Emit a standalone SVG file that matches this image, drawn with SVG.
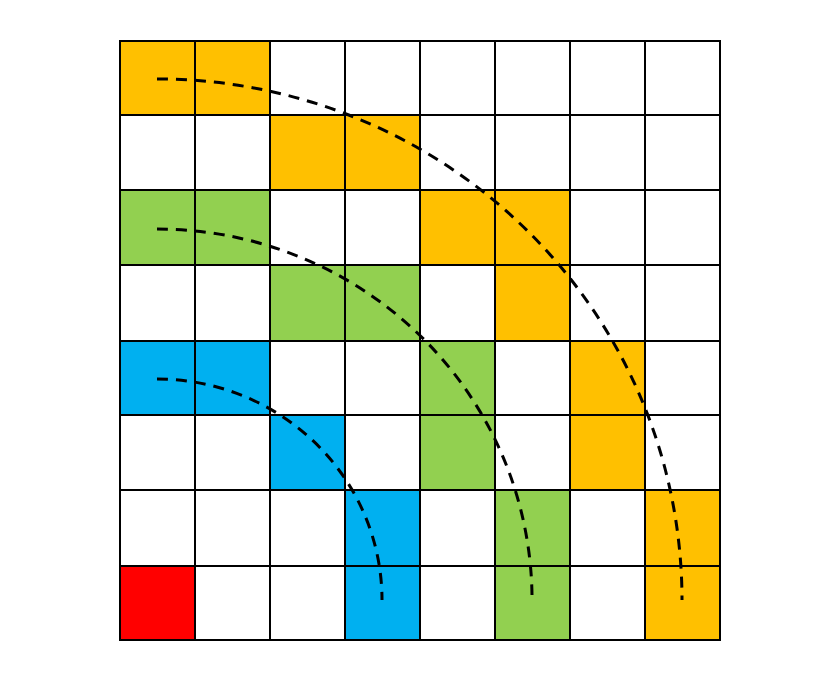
<svg xmlns="http://www.w3.org/2000/svg" width="840" height="682" viewBox="0 0 840 682">
<style>
.o{fill:#FFC000}.g{fill:#92D050}.b{fill:#00B0F0}.r{fill:#FF0000}
.grid line{stroke:#000;stroke-width:2}
.arc{fill:none;stroke:#000;stroke-width:3;stroke-dasharray:11 8}
</style>
<rect width="840" height="682" fill="#fff"/>
<g id="cells">
<rect class="o" x="120" y="40" width="150" height="75"/>
<rect class="o" x="270" y="115" width="150" height="75"/>
<rect class="o" x="420" y="190" width="150" height="75"/>
<rect class="o" x="495" y="265" width="75" height="75"/>
<rect class="o" x="570" y="340" width="75" height="150"/>
<rect class="o" x="645" y="490" width="75" height="150"/>
<rect class="g" x="120" y="190" width="150" height="75"/>
<rect class="g" x="270" y="265" width="150" height="75"/>
<rect class="g" x="420" y="340" width="75" height="150"/>
<rect class="g" x="495" y="490" width="75" height="150"/>
<rect class="b" x="120" y="340" width="150" height="75"/>
<rect class="b" x="270" y="415" width="75" height="75"/>
<rect class="b" x="345" y="490" width="75" height="150"/>
<rect class="r" x="120" y="565" width="75" height="75"/>
</g>
<g class="grid" id="grid">
<line x1="120" y1="40" x2="120" y2="641"/>
<line x1="195" y1="40" x2="195" y2="641"/>
<line x1="270" y1="40" x2="270" y2="641"/>
<line x1="345" y1="40" x2="345" y2="641"/>
<line x1="420" y1="40" x2="420" y2="641"/>
<line x1="495" y1="40" x2="495" y2="641"/>
<line x1="570" y1="40" x2="570" y2="641"/>
<line x1="645" y1="40" x2="645" y2="641"/>
<line x1="720" y1="40" x2="720" y2="641"/>
<line x1="119" y1="41" x2="721" y2="41"/>
<line x1="119" y1="115" x2="721" y2="115"/>
<line x1="119" y1="190" x2="721" y2="190"/>
<line x1="119" y1="265" x2="721" y2="265"/>
<line x1="119" y1="341" x2="721" y2="341"/>
<line x1="119" y1="415" x2="721" y2="415"/>
<line x1="119" y1="490" x2="721" y2="490"/>
<line x1="119" y1="566" x2="721" y2="566"/>
<line x1="119" y1="640" x2="721" y2="640"/>
</g>
<g id="connectors">
<path class="arc" d="M157,79 A525,521 0 0 1 682,600"/>
<path class="arc" d="M157,229 A375,371 0 0 1 532,595"/>
<path class="arc" d="M157,379 A225,221 0 0 1 382,600"/>
</g>
</svg>
